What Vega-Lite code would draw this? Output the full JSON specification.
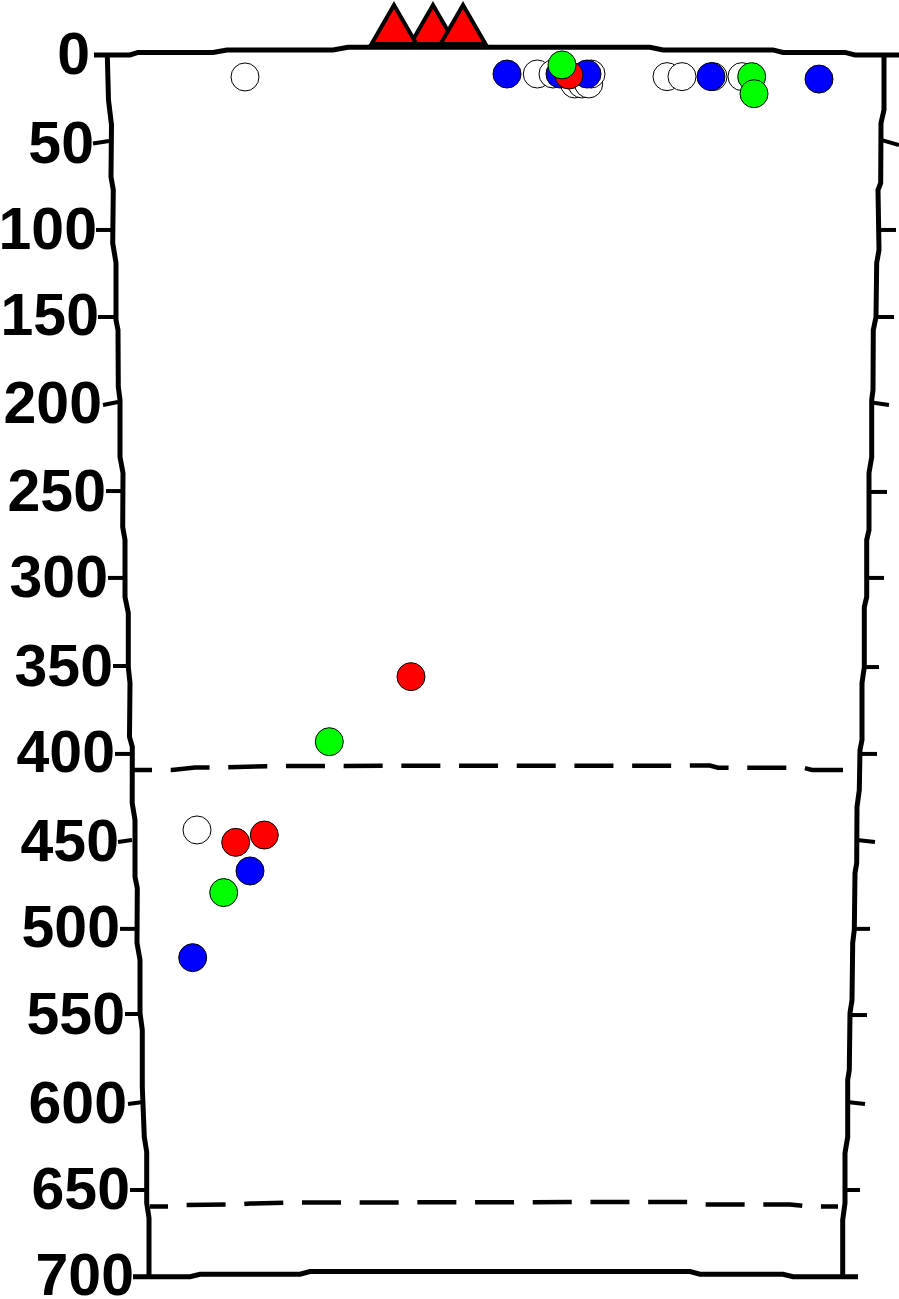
{
"$schema":"https://vega.github.io/schema/vega-lite/v6.json",
"width":899,"height":1299,"padding":0,
"autosize":{"type":"none"},
"background":"white",
"view":{"stroke":null},
"config":{"style":{"cell":{"stroke":null}}},
"datasets":{
"walls":[
{"wall":"left","x":107.3,"depth":0},{"wall":"left","x":108.5,"depth":25.8},{"wall":"left","x":111.5,"depth":40.1},{"wall":"left","x":111,"depth":69.9},{"wall":"left","x":113.3,"depth":77.4},{"wall":"left","x":112.7,"depth":107.8},{"wall":"left","x":116,"depth":119.2},{"wall":"left","x":116,"depth":151.9},{"wall":"left","x":118,"depth":157.7},{"wall":"left","x":118.3,"depth":190.3},{"wall":"left","x":120,"depth":197.8},{"wall":"left","x":120,"depth":230.5},{"wall":"left","x":123,"depth":239.6},{"wall":"left","x":122.7,"depth":270.6},{"wall":"left","x":125,"depth":278},{"wall":"left","x":125,"depth":310.7},{"wall":"left","x":128.3,"depth":319.9},{"wall":"left","x":128.3,"depth":350.9},{"wall":"left","x":130,"depth":360},{"wall":"left","x":129.5,"depth":391},{"wall":"left","x":132.3,"depth":396.7},{"wall":"left","x":132.2,"depth":428.8},{"wall":"left","x":135,"depth":438.6},{"wall":"left","x":135,"depth":471.2},{"wall":"left","x":137.3,"depth":477.6},{"wall":"left","x":137,"depth":509.1},{"wall":"left","x":140,"depth":518.8},{"wall":"left","x":140,"depth":549.2},{"wall":"left","x":142.3,"depth":559},{"wall":"left","x":142.3,"depth":591.7},{"wall":"left","x":144.3,"depth":620.3},{"wall":"left","x":146.7,"depth":628.9},{"wall":"left","x":146.7,"depth":658.2},{"wall":"left","x":149,"depth":666.7},{"wall":"left","x":149,"depth":700.6},
{"wall":"right","x":884,"depth":0},{"wall":"right","x":884,"depth":31.5},{"wall":"right","x":881,"depth":39},{"wall":"right","x":880.7,"depth":73.4},{"wall":"right","x":878,"depth":77.4},{"wall":"right","x":879,"depth":111.8},{"wall":"right","x":876.7,"depth":119.2},{"wall":"right","x":876,"depth":150.2},{"wall":"right","x":873.3,"depth":157.7},{"wall":"right","x":873,"depth":192.1},{"wall":"right","x":871.7,"depth":197.8},{"wall":"right","x":871.7,"depth":230.5},{"wall":"right","x":869,"depth":239.6},{"wall":"right","x":869,"depth":272.3},{"wall":"right","x":866.7,"depth":278},{"wall":"right","x":866.7,"depth":310.7},{"wall":"right","x":864.3,"depth":316.5},{"wall":"right","x":864.3,"depth":350.9},{"wall":"right","x":862,"depth":360},{"wall":"right","x":862,"depth":392.7},{"wall":"right","x":860,"depth":398.4},{"wall":"right","x":859.3,"depth":421.4},{"wall":"right","x":857,"depth":431.1},{"wall":"right","x":856.7,"depth":463.2},{"wall":"right","x":855,"depth":469},{"wall":"right","x":854.3,"depth":501.6},{"wall":"right","x":852.7,"depth":509.1},{"wall":"right","x":852,"depth":541.8},{"wall":"right","x":850,"depth":549.2},{"wall":"right","x":849.3,"depth":581.9},{"wall":"right","x":847.7,"depth":587.6},{"wall":"right","x":847.7,"depth":620.3},{"wall":"right","x":845,"depth":629.5},{"wall":"right","x":845,"depth":658.2},{"wall":"right","x":842.7,"depth":667.9},{"wall":"right","x":842.7,"depth":700.6}
],
"surfaces":[
{"line":"top","x":94,"depth":0},{"line":"top","x":130,"depth":0},{"line":"top","x":138,"depth":-1.5},{"line":"top","x":213,"depth":-1.5},{"line":"top","x":227,"depth":-2.9},{"line":"top","x":333,"depth":-2.9},{"line":"top","x":348,"depth":-4.4},{"line":"top","x":650,"depth":-4.4},{"line":"top","x":663,"depth":-2.9},{"line":"top","x":773,"depth":-2.9},{"line":"top","x":783,"depth":-1.5},{"line":"top","x":845,"depth":-1.5},{"line":"top","x":855,"depth":0},{"line":"top","x":899,"depth":0},
{"line":"bottom","x":133,"depth":700.4},{"line":"bottom","x":190,"depth":700.4},{"line":"bottom","x":200,"depth":699},{"line":"bottom","x":300,"depth":699},{"line":"bottom","x":310,"depth":697.5},{"line":"bottom","x":690,"depth":697.5},{"line":"bottom","x":700,"depth":699},{"line":"bottom","x":783,"depth":699},{"line":"bottom","x":793,"depth":700.4},{"line":"bottom","x":858,"depth":700.4}
],
"discontinuities":[
{"line":"410","x":134,"depth":409.9},{"line":"410","x":172,"depth":409.9},{"line":"410","x":195,"depth":408.5},{"line":"410","x":212,"depth":408.5},{"line":"410","x":285,"depth":407.6},{"line":"410","x":710,"depth":407.4},{"line":"410","x":718,"depth":408.6},{"line":"410","x":803,"depth":408.6},{"line":"410","x":812,"depth":409.9},{"line":"410","x":843,"depth":409.9},
{"line":"660","x":150,"depth":660.2},{"line":"660","x":170,"depth":660.2},{"line":"660","x":185,"depth":659.3},{"line":"660","x":240,"depth":659},{"line":"660","x":250,"depth":658.5},{"line":"660","x":290,"depth":657.9},{"line":"660","x":640,"depth":657.6},{"line":"660","x":690,"depth":657.6},{"line":"660","x":703,"depth":659},{"line":"660","x":790,"depth":659},{"line":"660","x":810,"depth":660.2},{"line":"660","x":838,"depth":660.2}
],
"ticks":[
{"x":93,"x2":109,"y":50.7,"y2":49.3},{"x":96,"x2":112,"y":100.3,"y2":100.3},{"x":98,"x2":115,"y":150.2,"y2":150.2},{"x":103,"x2":118,"y":200.7,"y2":198.9},{"x":106,"x2":121,"y":250,"y2":250},{"x":108,"x2":123,"y":299.8,"y2":299.8},{"x":113,"x2":126,"y":350.3,"y2":350.3},{"x":115,"x2":130,"y":400.7,"y2":400.7},{"x":118,"x2":132,"y":451.2,"y2":450},{"x":120,"x2":135,"y":501,"y2":501},{"x":125,"x2":139,"y":549.8,"y2":549.8},{"x":128,"x2":143,"y":601.4,"y2":600.2},{"x":130,"x2":145,"y":650.7,"y2":650.7},
{"x":881,"x2":899,"y":48.7,"y2":51.6},{"x":880,"x2":896,"y":100.3,"y2":100.3},{"x":876,"x2":894,"y":150.2,"y2":150.2},{"x":872,"x2":889,"y":199.2,"y2":200.7},{"x":869,"x2":887,"y":250.5,"y2":250.5},{"x":867,"x2":884,"y":299.8,"y2":299.8},{"x":864,"x2":879,"y":350.9,"y2":350.9},{"x":860,"x2":877,"y":400.7,"y2":400.7},{"x":857,"x2":875,"y":450,"y2":451.2},{"x":855,"x2":870,"y":501,"y2":501},{"x":850,"x2":867,"y":550.4,"y2":550.4},{"x":847,"x2":865,"y":600.2,"y2":601.4},{"x":845,"x2":860,"y":650.7,"y2":650.7}
],
"labels":[
{"label":"0","x":88,"depth":0.6},{"label":"50","x":92,"depth":51.6},{"label":"100","x":95,"depth":100.9},{"label":"150","x":97,"depth":150.2},{"label":"200","x":100,"depth":200.7},{"label":"250","x":104,"depth":251.1},{"label":"300","x":106,"depth":300.4},{"label":"350","x":111,"depth":351.4},{"label":"400","x":113,"depth":400.7},{"label":"450","x":117,"depth":451.8},{"label":"500","x":118,"depth":501},{"label":"550","x":123,"depth":550.9},{"label":"600","x":125,"depth":602},{"label":"650","x":128,"depth":651.3},{"label":"700","x":132,"depth":700.6}
],
"volcanoes":[{"x":433,"depth":-17.5},{"x":394,"depth":-17.5},{"x":463,"depth":-17.5}],
"events":[
{"x":245,"depth":12.6,"group":"white"},{"x":537.3,"depth":10.9,"group":"white"},{"x":553,"depth":10.9,"group":"white"},{"x":574.7,"depth":16.6,"group":"white"},{"x":582,"depth":16.6,"group":"white"},{"x":588.7,"depth":16.6,"group":"white"},{"x":591,"depth":10.9,"group":"white"},{"x":667,"depth":12.4,"group":"white"},{"x":682,"depth":12.4,"group":"white"},{"x":713,"depth":12.4,"group":"white"},{"x":742,"depth":12.4,"group":"white"},{"x":197,"depth":444.3,"group":"white"},
{"x":507,"depth":10.9,"group":"blue"},{"x":560,"depth":10.9,"group":"blue"},{"x":587,"depth":10.9,"group":"blue"},{"x":711,"depth":12.4,"group":"blue"},{"x":819,"depth":13.8,"group":"blue"},{"x":250,"depth":467.8,"group":"blue"},{"x":192.7,"depth":517.5,"group":"blue"},
{"x":569,"depth":11.5,"group":"red"},{"x":411,"depth":356.4,"group":"red"},{"x":235.7,"depth":451.4,"group":"red"},{"x":264.3,"depth":447.2,"group":"red"},
{"x":562,"depth":5.7,"group":"green"},{"x":751.7,"depth":12.4,"group":"green"},{"x":754,"depth":22.2,"group":"green"},{"x":329.3,"depth":393.7,"group":"green"},{"x":223.7,"depth":480.2,"group":"green"}
]
},
"encoding":{
"x":{"field":"x","type":"quantitative","scale":{"domain":[0,899],"nice":false,"zero":false},"axis":null},
"y":{"field":"depth","type":"quantitative","scale":{"domain":[713.2,-31.53],"nice":false,"zero":false},"axis":null}
},
"layer":[
{"data":{"name":"volcanoes"},"mark":{"type":"point","shape":"triangle-up","filled":true,"size":2025,"fill":"#ff0000","stroke":"black","strokeWidth":4,"opacity":1,"strokeJoin":"miter","strokeMiterLimit":10}},
{"data":{"name":"surfaces"},"mark":{"type":"line","color":"black","strokeWidth":5},"encoding":{"detail":{"field":"line"}}},
{"data":{"name":"walls"},"mark":{"type":"line","color":"black","strokeWidth":5},"encoding":{"detail":{"field":"wall"},"order":{"field":"depth"}}},
{"data":{"name":"discontinuities"},"mark":{"type":"line","color":"black","strokeWidth":4.5,"strokeDash":[39,18.7],"strokeDashOffset":21},"encoding":{"detail":{"field":"line"}}},
{"data":{"name":"ticks"},"mark":{"type":"rule","color":"black","strokeWidth":4},"encoding":{"x":{"field":"x","type":"quantitative"},"x2":{"field":"x2"},"y":{"field":"y","type":"quantitative"},"y2":{"field":"y2"}}},
{"data":{"name":"labels"},"mark":{"type":"text","align":"right","baseline":"middle","font":"Liberation Sans","fontWeight":"bold","fontSize":59,"dy":0,"dx":2,"color":"black"},"encoding":{"text":{"field":"label"}}},
{"data":{"name":"events"},"mark":{"type":"point","shape":"circle","filled":true,"size":784,"stroke":"black","strokeWidth":1,"opacity":1},"encoding":{"fill":{"field":"group","type":"nominal","scale":{"domain":["white","blue","red","green"],"range":["#ffffff","#0000ff","#ff0000","#00ff00"]},"legend":null}}}
]
}
